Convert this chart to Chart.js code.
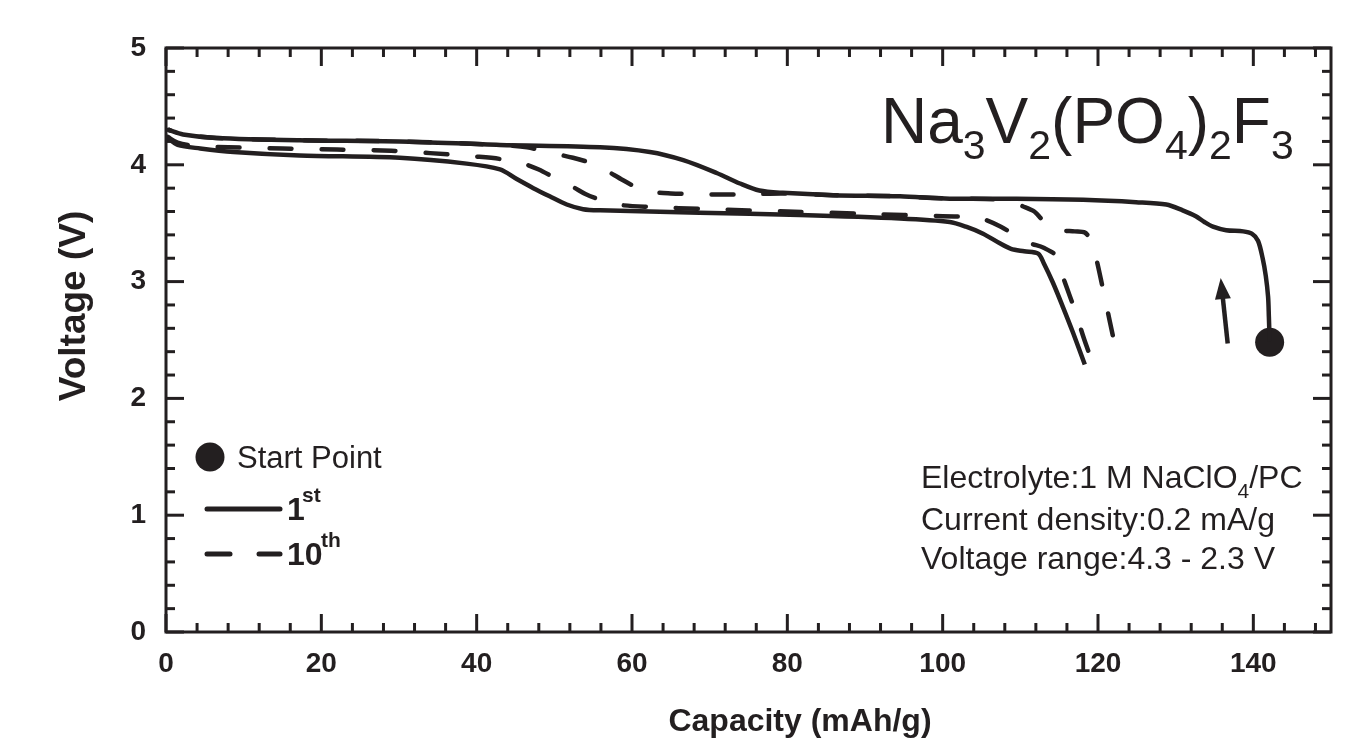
<!DOCTYPE html>
<html><head><meta charset="utf-8">
<script src="https://cdn.jsdelivr.net/npm/chart.js@4/dist/chart.umd.min.js"></script>
<style>html,body{margin:0;padding:0;background:#fff;}#wrap{width:1370px;height:746px;position:relative;}</style>
</head><body><div id="wrap"><canvas id="c" width="1370" height="746"></canvas></div>
<script>
// ---- data (capacity in mAh/g, voltage in V) ----
const cap1Charge = [142.1, 142.0, 141.9, 141.6, 141.2, 140.6, 139.8, 138.7, 136.5, 134.8, 133.7, 132.6, 130.9, 128.8, 124.9, 118.1, 109.5, 100.9, 94.5, 85.9, 79.4, 76.4, 73.9, 70.9, 66.6, 62.3, 55.9, 43.0, 30.1, 17.2, 6.5, 2.2, 0.3];
const volt1Charge = [2.49, 2.70, 2.87, 3.05, 3.20, 3.35, 3.41, 3.43, 3.44, 3.47, 3.51, 3.56, 3.61, 3.66, 3.68, 3.70, 3.71, 3.71, 3.73, 3.74, 3.76, 3.78, 3.84, 3.93, 4.04, 4.11, 4.15, 4.17, 4.20, 4.21, 4.23, 4.26, 4.30];

const cap1Discharge = [0.2, 1.5, 4.4, 8.7, 17.2, 30.1, 38.7, 43.0, 45.1, 47.3, 49.4, 51.6, 53.7, 55.9, 68.7, 81.6, 94.5, 100.9, 103.0, 105.2, 107.3, 108.8, 110.5, 112.3, 113.0, 114.2, 115.5, 116.8, 118.3];
const volt1Discharge = [4.23, 4.17, 4.14, 4.11, 4.08, 4.06, 4.01, 3.96, 3.88, 3.80, 3.73, 3.66, 3.62, 3.61, 3.59, 3.57, 3.54, 3.51, 3.47, 3.41, 3.33, 3.28, 3.26, 3.24, 3.16, 2.99, 2.78, 2.56, 2.29];

const cap10Charge = [121.9, 121.2, 120.5, 119.8, 119.1, 118.3, 117.0, 115.1, 113.8, 112.8, 111.8, 110.3, 108.9, 106.5, 103.0, 100.9, 94.5, 85.9, 79.4, 76.0, 72.0, 68.0, 65.0, 62.3, 60.5, 58.8, 57.0, 55.4, 52.4, 49.0, 46.5, 43.0, 30.1, 17.2, 6.5, 2.2, 0.3];
const volt10Charge = [2.54, 2.76, 2.98, 3.19, 3.35, 3.42, 3.43, 3.44, 3.47, 3.53, 3.60, 3.645, 3.68, 3.705, 3.71, 3.71, 3.73, 3.74, 3.755, 3.75, 3.745, 3.75, 3.755, 3.77, 3.81, 3.87, 3.94, 4.00, 4.06, 4.11, 4.15, 4.17, 4.20, 4.21, 4.23, 4.26, 4.30];

const cap10Discharge = [0.2, 1.5, 4.0, 8.0, 15.0, 22.0, 29.0, 34.0, 40.0, 43.0, 46.0, 48.0, 50.0, 52.4, 54.0, 55.9, 58.0, 62.0, 70.0, 80.0, 90.0, 100.0, 103.0, 105.0, 107.5, 109.5, 111.2, 113.0, 114.6, 115.7, 117.0, 118.2, 119.0];
const volt10Discharge = [4.24, 4.19, 4.16, 4.15, 4.14, 4.13, 4.12, 4.10, 4.07, 4.05, 4.01, 3.96, 3.89, 3.81, 3.75, 3.70, 3.66, 3.64, 3.62, 3.60, 3.58, 3.56, 3.555, 3.54, 3.47, 3.39, 3.33, 3.29, 3.22, 3.00, 2.76, 2.51, 2.36];

const startCap = [142.1];
const startVolt = [2.48];
const arrowCap = [136.7, 135.8];
const arrowVolt = [2.47, 3.03];

const xMajorTicks = [0, 20, 40, 60, 80, 100, 120, 140];
const xMinorTicks = [4, 8, 12, 16, 24, 28, 32, 36, 44, 48, 52, 56, 64, 68, 72, 76, 84, 88, 92, 96, 104, 108, 112, 116, 124, 128, 132, 136, 144, 148];
const yMajorTicks = [0, 1, 2, 3, 4, 5];
const yMinorTicks = [0.2, 0.4, 0.6, 0.8, 1.2, 1.4, 1.6, 1.8, 2.2, 2.4, 2.6, 2.8, 3.2, 3.4, 3.6, 3.8, 4.2, 4.4, 4.6, 4.8];

const xTitle = 'Capacity (mAh/g)';
const yTitle = 'Voltage (V)';
const legendStart = 'Start Point';
const legendFirst = ['1', 'st'];
const legendTenth = ['10', 'th'];
const infoLines = [
  [['Electrolyte:1 M NaClO', 0], ['4', 1], ['/PC', 0]],
  [['Current density:0.2 mA/g', 0]],
  [['Voltage range:4.3 - 2.3 V', 0]]
];
const formula = [['Na',0],['3',1],['V',0],['2',1],['(PO',0],['4',1],[')',0],['2',1],['F',0],['3',1]];

// ---- rendering ----
const FF = '"Liberation Sans", Arial, Helvetica, sans-serif';
const ink = '#231f20';
const pts = (xs, ys) => xs.map((v, i) => ({x: v, y: ys[i]}));

function richText(ctx, parts, x, y, size, subSize, subDy, weight) {
  let cx = x;
  parts.forEach(([t, sub]) => {
    ctx.font = `${weight} ${sub ? subSize : size}px ${FF}`;
    ctx.fillText(t, cx, y + (sub ? subDy : 0));
    cx += ctx.measureText(t).width;
  });
}

const overlay = {
  id: 'overlay',
  afterDraw(chart) {
    const {ctx, chartArea: a, scales: {x, y}} = chart;
    ctx.save();
    ctx.strokeStyle = ink; ctx.fillStyle = ink;
    ctx.lineWidth = 3; ctx.lineCap = 'butt';
    ctx.strokeRect(a.left, a.top, a.right - a.left, a.bottom - a.top);
    const seg = (x1, y1, x2, y2) => { ctx.beginPath(); ctx.moveTo(x1, y1); ctx.lineTo(x2, y2); ctx.stroke(); };
    const drawX = (vals, len) => vals.forEach(v => { const p = x.getPixelForValue(v); seg(p, a.bottom, p, a.bottom - len); seg(p, a.top, p, a.top + len); });
    const drawY = (vals, len) => vals.forEach(v => { const p = y.getPixelForValue(v); seg(a.left, p, a.left + len, p); seg(a.right, p, a.right - len, p); });
    drawX(xMajorTicks, 18); drawX(xMinorTicks, 9);
    drawY(yMajorTicks, 18); drawY(yMinorTicks, 9);

    // arrow
    const ax0 = x.getPixelForValue(arrowCap[0]), ay0 = y.getPixelForValue(arrowVolt[0]);
    const ax1 = x.getPixelForValue(arrowCap[1]), ay1 = y.getPixelForValue(arrowVolt[1]);
    const dx = ax1 - ax0, dy = ay1 - ay0, L = Math.hypot(dx, dy), ux = dx / L, uy = dy / L;
    const hl = 21, hw = 8;
    const bx = ax1 - ux * hl, by = ay1 - uy * hl;
    ctx.lineWidth = 4.5;
    seg(ax0, ay0, bx + ux * 3, by + uy * 3);
    ctx.beginPath(); ctx.moveTo(ax1, ay1);
    ctx.lineTo(bx - uy * hw, by + ux * hw); ctx.lineTo(bx + uy * hw, by - ux * hw);
    ctx.closePath(); ctx.fill();

    // axis titles
    ctx.textAlign = 'center'; ctx.textBaseline = 'alphabetic';
    ctx.font = `bold 32px ${FF}`;
    ctx.fillText(xTitle, 800, 731);
    ctx.save(); ctx.translate(85, 306); ctx.rotate(-Math.PI / 2);
    ctx.font = `bold 37px ${FF}`;
    ctx.fillText(yTitle, 0, 0);
    ctx.restore();

    // formula
    ctx.textAlign = 'left';
    richText(ctx, formula, 881, 143, 64, 41, 16, 'normal');

    // legend
    ctx.beginPath(); ctx.arc(210, 457, 14.5, 0, Math.PI * 2); ctx.fill();
    ctx.font = `normal 31px ${FF}`;
    ctx.fillText(legendStart, 237, 468);
    ctx.lineWidth = 5; ctx.lineCap = 'round';
    seg(207, 509, 280, 509);
    seg(207, 554, 230, 554); seg(259, 554, 280, 554);
    ctx.font = `bold 32px ${FF}`; ctx.fillText(legendFirst[0], 287, 520);
    ctx.font = `bold 21px ${FF}`; ctx.fillText(legendFirst[1], 302, 502);
    ctx.font = `bold 32px ${FF}`; ctx.fillText(legendTenth[0], 287, 565);
    ctx.font = `bold 21px ${FF}`; ctx.fillText(legendTenth[1], 321, 547);

    // info text
    const bases = [488, 530, 569];
    infoLines.forEach((ln, i) => richText(ctx, ln, 921, bases[i], 32, 21, 10, 'normal'));
    ctx.restore();
  }
};

const lineDs = (label, xs, ys, dashed) => ({
  label, data: pts(xs, ys), showLine: true, borderColor: ink, borderWidth: 4.5,
  pointRadius: 0, tension: 0.3, fill: false,
  borderDash: dashed ? [22, 30] : [], borderCapStyle: dashed ? 'round' : 'butt', borderJoinStyle: 'round'
});

new Chart(document.getElementById('c').getContext('2d'), {
  type: 'scatter',
  data: {
    datasets: [
      lineDs('1st charge', cap1Charge, volt1Charge, false),
      lineDs('1st discharge', cap1Discharge, volt1Discharge, false),
      lineDs('10th charge', cap10Charge, volt10Charge, true),
      lineDs('10th discharge', cap10Discharge, volt10Discharge, true),
      {label: 'Start Point', data: pts(startCap, startVolt), showLine: false, pointRadius: 14.5,
       pointBackgroundColor: ink, pointBorderWidth: 0, pointStyle: 'circle'}
    ]
  },
  options: {
    responsive: false, animation: false, devicePixelRatio: 1,
    layout: {padding: {left: 0, right: 39, top: 48, bottom: 0}},
    plugins: {legend: {display: false}, tooltip: {enabled: false}},
    scales: {
      x: {
        type: 'linear', min: 0, max: 150,
        grid: {display: false, drawTicks: false}, border: {display: false},
        afterFit: s => { s.height = 114; },
        afterBuildTicks: s => { s.ticks = xMajorTicks.map(v => ({value: v})); },
        ticks: {color: ink, padding: 15, maxRotation: 0, autoSkip: false, font: {family: FF, size: 28, weight: 'bold'}}
      },
      y: {
        type: 'linear', min: 0, max: 5,
        grid: {display: false, drawTicks: false}, border: {display: false},
        afterFit: s => { s.width = 166; },
        afterBuildTicks: s => { s.ticks = yMajorTicks.map(v => ({value: v})); },
        ticks: {color: ink, padding: 20, font: {family: FF, size: 28, weight: 'bold'}}
      }
    }
  },
  plugins: [overlay]
});
</script></body></html>
